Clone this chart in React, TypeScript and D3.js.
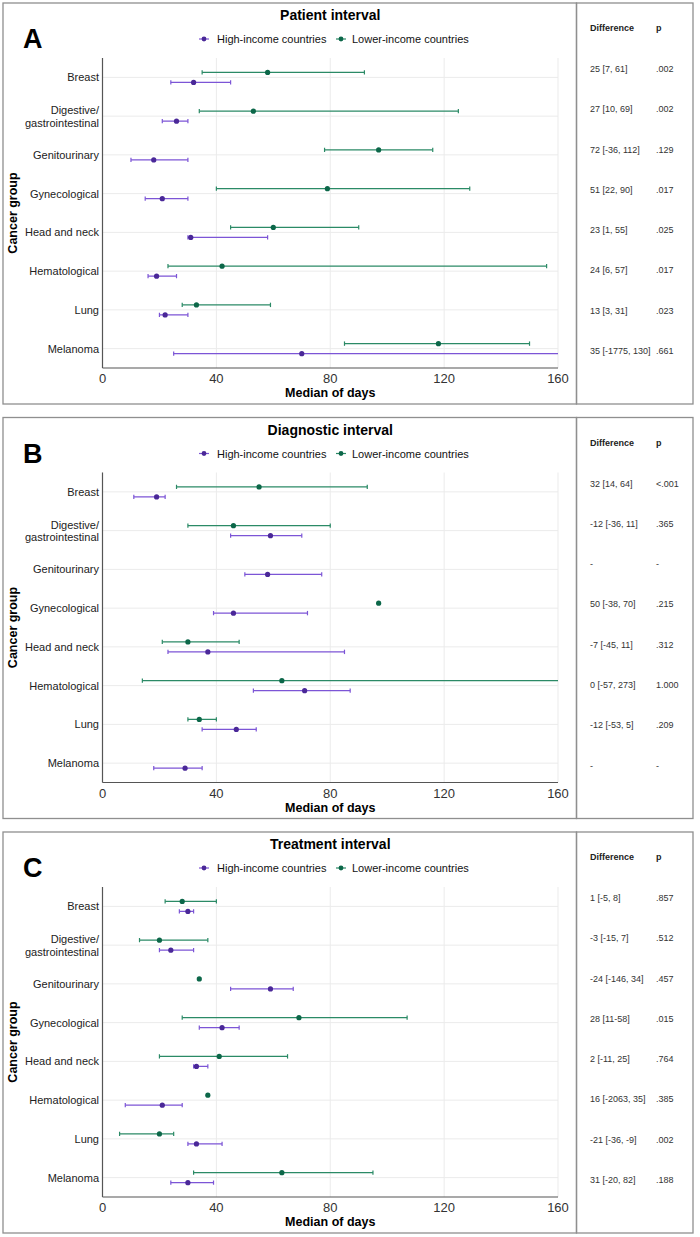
import React from 'react';
import * as d3 from 'd3';

const categories = ['Breast', 'Digestive/\ngastrointestinal', 'Genitourinary', 'Gynecological', 'Head and neck', 'Hematological', 'Lung', 'Melanoma'];
const panelLetters = ['A', 'B', 'C'];
const panelTitles = ['Patient interval', 'Diagnostic interval', 'Treatment interval'];
const xTicks = [0, 40, 80, 120, 160];

// median, lower, upper (null = no estimate)
const patientHigh = [[32, 24, 45], [26, 21, 30], [18, 10, 30], [21, 15, 30], [31, 30, 58], [19, 16, 26], [22, 20, 30], [70, 25, 200]];
const patientLow = [[58, 35, 92], [53, 34, 125], [97, 78, 116], [79, 40, 129], [60, 45, 90], [42, 23, 156], [33, 28, 59], [118, 85, 150]];
const diagnosticHigh = [[19, 11, 22], [59, 45, 70], [58, 50, 77], [46, 39, 72], [37, 23, 85], [71, 53, 87], [47, 35, 54], [29, 18, 35]];
const diagnosticLow = [[55, 26, 93], [46, 30, 80], null, [97, null, null], [30, 21, 48], [63, 14, 220], [34, 30, 40], null];
const treatmentHigh = [[30, 27, 32], [24, 20, 32], [59, 45, 67], [42, 34, 48], [33, 32, 37], [21, 8, 28], [33, 30, 42], [30, 24, 39]];
const treatmentLow = [[28, 22, 40], [20, 13, 37], [34, null, null], [69, 28, 107], [41, 20, 65], [37, null, null], [20, 6, 25], [63, 32, 95]];

const patientDiff = ['25 [7, 61]', '27 [10, 69]', '72 [-36, 112]', '51 [22, 90]', '23 [1, 55]', '24 [6, 57]', '13 [3, 31]', '35 [-1775, 130]'];
const patientP = ['.002', '.002', '.129', '.017', '.025', '.017', '.023', '.661'];
const diagnosticDiff = ['32 [14, 64]', '-12 [-36, 11]', '-', '50 [-38, 70]', '-7 [-45, 11]', '0 [-57, 273]', '-12 [-53, 5]', '-'];
const diagnosticP = ['<.001', '.365', '-', '.215', '.312', '1.000', '.209', '-'];
const treatmentDiff = ['1 [-5, 8]', '-3 [-15, 7]', '-24 [-146, 34]', '28 [11-58]', '2 [-11, 25]', '16 [-2063, 35]', '-21 [-36, -9]', '31 [-20, 82]'];
const treatmentP = ['.857', '.512', '.457', '.015', '.764', '.385', '.002', '.188'];

const highSeries = [patientHigh, diagnosticHigh, treatmentHigh];
const lowSeries = [patientLow, diagnosticLow, treatmentLow];
const diffSeries = [patientDiff, diagnosticDiff, treatmentDiff];
const pSeries = [patientP, diagnosticP, treatmentP];

const FONT = "'Liberation Sans', Arial, sans-serif";
const HIGH_LINE = '#7c55d6';
const HIGH_DOT = '#4a2898';
const LOW_LINE = '#2b8a66';
const LOW_DOT = '#0c6749';

const panelTops = [3, 417.5, 832];
const W = 700;
const H = 1237;
const frameL = 3;
const frameM = 576.5;
const frameR = 693;
const panelH = 401;

const x = d3.scaleLinear().domain([0, 160]).range([102.5, 558]);

type Row = (number | null)[] | null;

const ErrorBar = ({ d, cy, line, dot, clipId }: { d: Row; cy: number; line: string; dot: string; clipId: string }) => {
  if (!d) return null;
  const [m, lo, hi] = d;
  return (
    <g clipPath={`url(#${clipId})`}>
      {lo != null && hi != null && (
        <>
          <line x1={x(lo)} x2={x(hi)} y1={cy} y2={cy} stroke={line} strokeWidth={1.2} />
          <line x1={x(lo)} x2={x(lo)} y1={cy - 2.2} y2={cy + 2.2} stroke={line} strokeWidth={1.2} />
          <line x1={x(hi)} x2={x(hi)} y1={cy - 2.2} y2={cy + 2.2} stroke={line} strokeWidth={1.2} />
        </>
      )}
      {m != null && <circle cx={x(m)} cy={cy} r={2.6} fill={dot} />}
    </g>
  );
};

const Panel = ({ i }: { i: number }) => {
  const top = panelTops[i];
  const plotTop = top + 55;
  const plotBottom = top + 365;
  const y = d3.scaleBand().domain(categories).range([plotTop, plotBottom]).padding(0);
  const bw = y.bandwidth();
  const rowY = d3.scaleLinear().domain([0, categories.length - 1]).range([top + 66, top + 348]);
  const clipId = `clip${i}`;
  const cx = (x(0) + x(160)) / 2;
  const legY = top + 36;
  return (
    <g fontFamily={FONT}>
      <defs>
        <clipPath id={clipId}>
          <rect x={x(0)} y={plotTop} width={x(160) - x(0)} height={plotBottom - plotTop} />
        </clipPath>
      </defs>
      <rect x={frameL} y={top} width={frameM - frameL} height={panelH} fill="none" stroke="#8f8f8f" strokeWidth={1.3} />
      <rect x={frameM} y={top} width={frameR - frameM} height={panelH} fill="none" stroke="#8f8f8f" strokeWidth={1.3} />
      <text x={23} y={top + 45} fontSize={27} fontWeight="bold" fill="#000">{panelLetters[i]}</text>
      <text x={cx} y={top + 17} fontSize={14} fontWeight="bold" textAnchor="middle" fill="#000">{panelTitles[i]}</text>
      {/* legend */}
      <line x1={199} x2={209} y1={legY} y2={legY} stroke={HIGH_LINE} strokeWidth={1.2} />
      <circle cx={204} cy={legY} r={2.4} fill={HIGH_DOT} />
      <text x={217} y={legY + 4} fontSize={11} fill="#111">High-income countries</text>
      <line x1={336} x2={346} y1={legY} y2={legY} stroke={LOW_LINE} strokeWidth={1.2} />
      <circle cx={341} cy={legY} r={2.4} fill={LOW_DOT} />
      <text x={352} y={legY + 4} fontSize={11} fill="#111">Lower-income countries</text>
      {/* grid */}
      {xTicks.map(t => (
        <line key={t} x1={x(t)} x2={x(t)} y1={plotTop} y2={plotBottom} stroke="#ebebeb" strokeWidth={1} />
      ))}
      {categories.map(c => (
        <line key={c} x1={x(0)} x2={x(160)} y1={y(c)! + bw / 2} y2={y(c)! + bw / 2} stroke="#ebebeb" strokeWidth={1} />
      ))}
      {/* axes */}
      <line x1={x(0)} x2={x(0)} y1={plotTop} y2={plotBottom} stroke="#555" strokeWidth={1.2} />
      <line x1={x(0)} x2={x(160)} y1={plotBottom} y2={plotBottom} stroke="#555" strokeWidth={1.2} />
      {xTicks.map(t => (
        <text key={t} x={x(t)} y={plotBottom + 15} fontSize={13} textAnchor="middle" fill="#333">{t}</text>
      ))}
      <text x={cx} y={plotBottom + 29} fontSize={12.5} fontWeight="bold" textAnchor="middle" fill="#000">Median of days</text>
      <text transform={`translate(17,${(plotTop + plotBottom) / 2}) rotate(-90)`} fontSize={12.5} fontWeight="bold" textAnchor="middle" fill="#000">Cancer group</text>
      {categories.map(c => {
        const lines = c.split('\n');
        const cy = y(c)! + bw / 2;
        return (
          <text key={c} x={99} y={cy + 4 - (lines.length - 1) * 6} fontSize={11} textAnchor="end" fill="#222">
            {lines.map((l, k) => (
              <tspan key={k} x={99} dy={k === 0 ? 0 : 12.5}>{l}</tspan>
            ))}
          </text>
        );
      })}
      {/* error bars */}
      {categories.map((c, k) => {
        const cy = y(c)! + bw / 2;
        return (
          <g key={c}>
            <ErrorBar d={lowSeries[i][k]} cy={cy - 5} line={LOW_LINE} dot={LOW_DOT} clipId={clipId} />
            <ErrorBar d={highSeries[i][k]} cy={cy + 5} line={HIGH_LINE} dot={HIGH_DOT} clipId={clipId} />
          </g>
        );
      })}
      {/* table */}
      <text x={590} y={top + 28} fontSize={9} fontWeight="bold" fill="#222">Difference</text>
      <text x={656} y={top + 28} fontSize={9} fontWeight="bold" fill="#222">p</text>
      {diffSeries[i].map((d, k) => (
        <g key={k}>
          <text x={590} y={rowY(k) + 3} fontSize={9} fill="#333">{d}</text>
          <text x={656} y={rowY(k) + 3} fontSize={9} fill="#333">{pSeries[i][k]}</text>
        </g>
      ))}
    </g>
  );
};

export default function App() {
  return (
    <svg width={W} height={H} style={{ position: 'absolute', left: 0, top: 0, display: 'block', background: '#fff' }}>
      <rect width={W} height={H} fill="#fff" />
      {panelTitles.map((_, i) => <Panel key={i} i={i} />)}
    </svg>
  );
}
